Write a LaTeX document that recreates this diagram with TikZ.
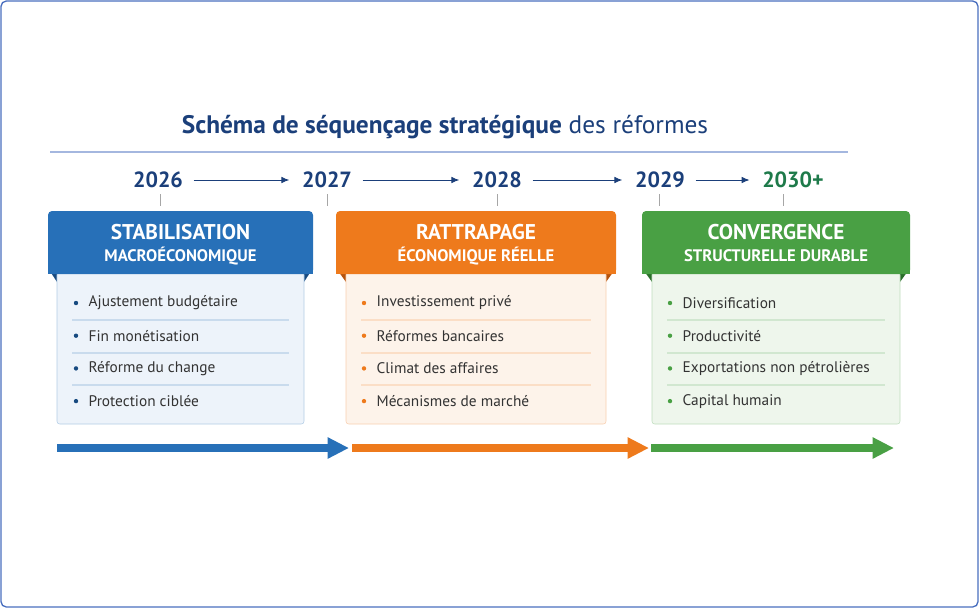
\documentclass[tikz,border=0pt]{standalone}
\usepackage{fontspec}
\setmainfont{PT Sans}
\usetikzlibrary{arrows.meta}
\definecolor{navy}{HTML}{1B3F7A}
\definecolor{cblue}{HTML}{2770B8}
\definecolor{cblueD}{HTML}{174A80}
\definecolor{corange}{HTML}{EE7A1C}
\definecolor{corangeD}{HTML}{B5520C}
\definecolor{cgreen}{HTML}{49A044}
\definecolor{cgreenD}{HTML}{2A6E2A}
\definecolor{ygreen}{HTML}{1E7A4A}
\definecolor{bblue}{HTML}{EDF3FA}
\definecolor{borange}{HTML}{FDF3EA}
\definecolor{bgreen}{HTML}{EEF6EC}
\definecolor{frame}{HTML}{4A6FBF}
\begin{document}
\begin{tikzpicture}[x=0.75pt,y=-0.75pt,
  year/.style={font=\fontsize{16.5}{18}\selectfont\bfseries, text=navy},
  yarrow/.style={-{Latex[length=6pt,width=5pt]}, draw=navy, line width=0.7pt},
  tick/.style={draw=gray!70, line width=0.7pt},
  item/.style={anchor=west, font=\fontsize{11.5}{13}\selectfont, text=black!80},
  hd1/.style={font=\fontsize{16}{18}\selectfont\bfseries, text=white},
  hd2/.style={font=\fontsize{12.5}{14}\selectfont\bfseries, text=white},
  big/.style={line width=6pt, -{Triangle[length=16pt,width=15pt]}}]
\useasboundingbox (0,0) rectangle (979,608);
\draw[frame, line width=1pt, rounded corners=4pt] (1,1) rectangle (978,607);
% title
\node (title) at (445,127) {\fontsize{19}{22}\selectfont\color{navy}\textbf{Schéma de séquençage stratégique} des réformes};
\draw[draw=frame!50, line width=0.8pt] (50,152) -- (848,152);
% years
\node[year] (y26) at (158,180) {2026};
\node[year] (y27) at (327,180) {2027};
\node[year] (y28) at (497,180) {2028};
\node[year] (y29) at (660,180) {2029};
\node[year, text=ygreen] (y30) at (793,180) {2030+};
\draw[yarrow] (y26.east)++(6,0) -- ([xshift=-6]y27.west);
\draw[yarrow] (y27.east)++(6,0) -- ([xshift=-6]y28.west);
\draw[yarrow] (y28.east)++(6,0) -- ([xshift=-6]y29.west);
\draw[yarrow] (y29.east)++(6,0) -- ([xshift=-6]y30.west);
\foreach \x in {160,327,497,659,783}{\draw[tick] (\x,194) -- (\x,206);}
% panels
\newcommand\panel[9]{%
 \fill[#6] (#1,268) -- (#3,282) -- (#3,268) -- cycle;
 \fill[#6] (#2,268) -- (#4,282) -- (#4,268) -- cycle;
 \draw[draw=#5!35, fill=#7, rounded corners=2pt] (#3,272) rectangle (#4,424);
 \fill[#5, rounded corners=3pt] (#1,211) rectangle (#2,274);
 \fill[#5] (#1,262) rectangle (#2,274);
 \node[hd1] at ({(#1+#2)/2},232) {#8};
 \node[hd2] at ({(#1+#2)/2},256) {#9};
 \foreach \yy in {320,353,385}{\draw[draw=#5!25, line width=0.8pt] ({#3+15},\yy) -- ({#4-15},\yy);}
}
\panel{48}{313}{57}{304}{cblue}{cblueD}{bblue}{STABILISATION}{MACROÉCONOMIQUE}
\panel{336}{616}{346}{606}{corange}{corangeD}{borange}{RATTRAPAGE}{ÉCONOMIQUE RÉELLE}
\panel{642}{910}{652}{900}{cgreen}{cgreenD}{bgreen}{CONVERGENCE}{STRUCTURELLE DURABLE}
\newcommand\items[6]{%
 \foreach \t [count=\i] in {#3,#4,#5,#6}{
   \fill[#2] ({#1},{303+(\i-1)*32.7}) circle (2.2);
   \node[item] at ({#1+8},{303+(\i-1)*32.7}) {\t};}}
\items{76}{cblueD}{Ajustement budgétaire}{Fin monétisation}{Réforme du change}{Protection ciblée}
\items{364}{corange}{Investissement privé}{Réformes bancaires}{Climat des affaires}{Mécanismes de marché}
\items{670}{cgreen}{Diversification}{Productivité}{Exportations non pétrolières}{Capital humain}
% bottom arrows
\coordinate (a1) at (57,448); \coordinate (a2) at (349,448);
\coordinate (b1) at (352,448); \coordinate (b2) at (649,448);
\coordinate (c1) at (651,448); \coordinate (c2) at (894,448);
\draw[big, cblue] (a1) -- (a2);
\draw[big, corange] (b1) -- (b2);
\draw[big, cgreen] (c1) -- (c2);
\end{tikzpicture}
\end{document}
